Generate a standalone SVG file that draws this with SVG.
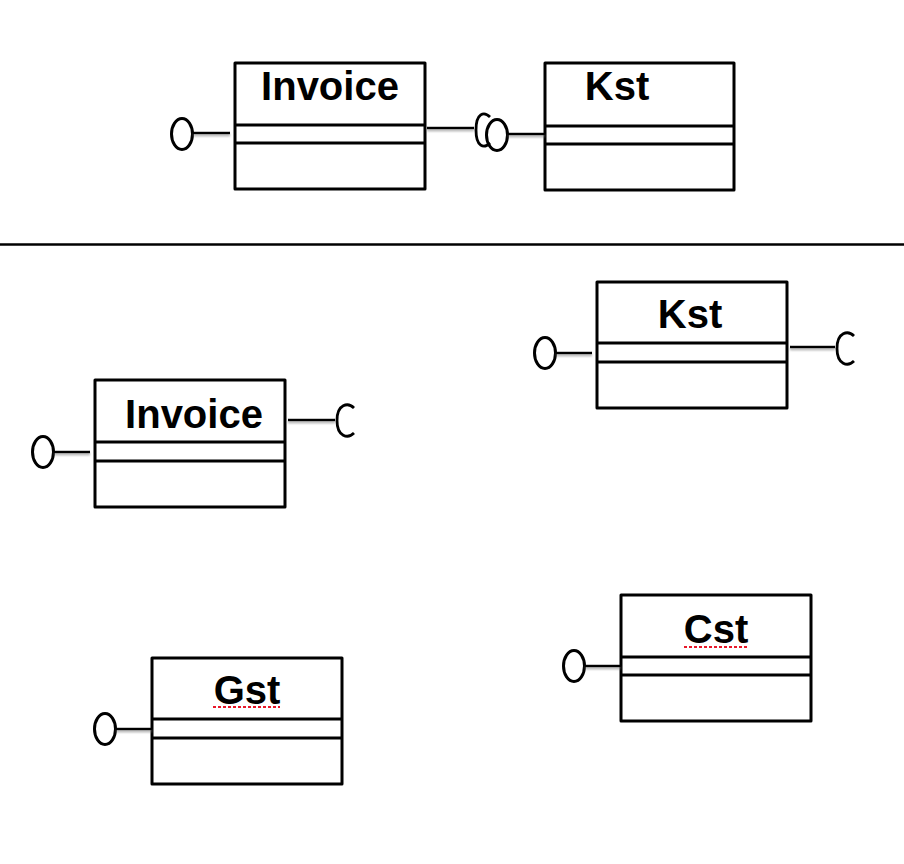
<svg xmlns="http://www.w3.org/2000/svg" width="904" height="864" viewBox="0 0 904 864">
<defs>
<filter id="sh" filterUnits="userSpaceOnUse" x="0" y="0" width="904" height="864">
<feDropShadow dx="0" dy="2" stdDeviation="1.2" flood-color="#777" flood-opacity="0.6"/>
</filter>
</defs>
<style>
.box{fill:#fff;stroke:#000;stroke-width:3;stroke-linejoin:round}
.sep{stroke:#000;stroke-width:3}
.t{font-family:"Liberation Sans",Arial,sans-serif;font-weight:bold;font-size:40px;fill:#000;text-anchor:middle}
.ln{stroke:#000;stroke-width:2.5;fill:none;filter:url(#sh)}
.o{fill:none;stroke:#000;stroke-width:3}
.c{fill:none;stroke:#000;stroke-width:2.8}
.sp{stroke:#e8182a;stroke-width:2;stroke-dasharray:3,2}
</style>
<rect width="904" height="864" fill="#fff"/>
<line x1="0" y1="244.5" x2="904" y2="244.5" stroke="#000" stroke-width="2.5"/>

<g id="invoice1">
<rect class="box" x="235" y="63" width="190" height="126"/>
<line class="sep" x1="235" y1="125" x2="425" y2="125"/>
<line class="sep" x1="235" y1="143" x2="425" y2="143"/>
<text class="t" x="330" y="100">Invoice</text>
</g>
<g id="kst1">
<rect class="box" x="545" y="63" width="189" height="127"/>
<line class="sep" x1="545" y1="126" x2="734" y2="126"/>
<line class="sep" x1="545" y1="144" x2="734" y2="144"/>
<text class="t" x="617" y="100">Kst</text>
</g>
<g id="kst2">
<rect class="box" x="597" y="282" width="190" height="126"/>
<line class="sep" x1="597" y1="343" x2="787" y2="343"/>
<line class="sep" x1="597" y1="362" x2="787" y2="362"/>
<text class="t" x="690" y="328">Kst</text>
</g>
<g id="invoice2">
<rect class="box" x="95" y="380" width="190" height="127"/>
<line class="sep" x1="95" y1="442" x2="285" y2="442"/>
<line class="sep" x1="95" y1="461" x2="285" y2="461"/>
<text class="t" x="194" y="428">Invoice</text>
</g>
<g id="gst">
<rect class="box" x="152" y="658" width="190" height="126"/>
<line class="sep" x1="152" y1="719" x2="342" y2="719"/>
<line class="sep" x1="152" y1="738" x2="342" y2="738"/>
<text class="t" x="247" y="704">Gst</text>
<line class="sp" x1="213" y1="707" x2="280" y2="707"/>
</g>
<g id="cst">
<rect class="box" x="621" y="595" width="190" height="126"/>
<line class="sep" x1="621" y1="657" x2="811" y2="657"/>
<line class="sep" x1="621" y1="675" x2="811" y2="675"/>
<text class="t" x="716" y="643">Cst</text>
<line class="sp" x1="684" y1="647" x2="748" y2="647"/>
</g>

<g id="connectors">
<!-- top invoice -->
<ellipse class="o" cx="182" cy="134" rx="10.5" ry="15.5"/>
<line class="ln" x1="193" y1="133" x2="230" y2="133"/>
<line class="ln" x1="427" y1="128" x2="474" y2="128"/>
<path class="c" d="M490,117 C484,111 476,113 476,130 C476,147 484,149 490,143"/>
<!-- top kst -->
<ellipse class="o" cx="497" cy="135" rx="10.5" ry="15.5"/>
<line class="ln" x1="508" y1="134" x2="545" y2="134"/>
<!-- kst2 -->
<ellipse class="o" cx="545" cy="353" rx="10.5" ry="15.5"/>
<line class="ln" x1="556" y1="353" x2="592" y2="353"/>
<line class="ln" x1="790" y1="347" x2="835" y2="347"/>
<path class="c" d="M854,336 C848,330 837,332 837,348.5 C837,365 848,367 854,361"/>
<!-- invoice2 -->
<ellipse class="o" cx="43" cy="452" rx="10.5" ry="15.5"/>
<line class="ln" x1="54" y1="452" x2="90" y2="452"/>
<line class="ln" x1="288" y1="420" x2="335" y2="420"/>
<path class="c" d="M354,408 C348,402 337,404 337,420.5 C337,437 348,439 354,433"/>
<!-- gst -->
<ellipse class="o" cx="105" cy="729" rx="10.5" ry="15.5"/>
<line class="ln" x1="116" y1="729" x2="152" y2="729"/>
<!-- cst -->
<ellipse class="o" cx="574" cy="666" rx="10.5" ry="15.5"/>
<line class="ln" x1="585" y1="666" x2="621" y2="666"/>
</g>
</svg>
